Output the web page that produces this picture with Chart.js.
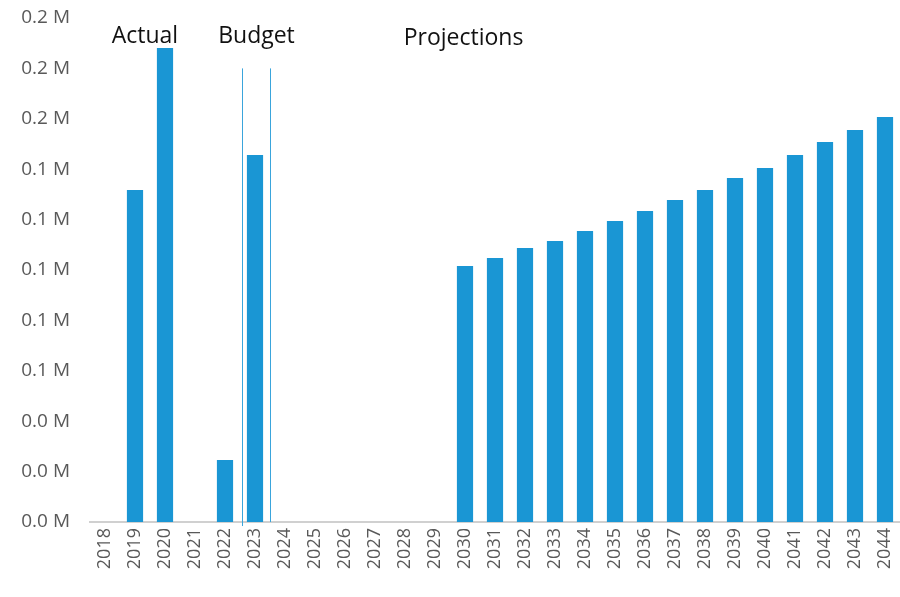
<!DOCTYPE html>
<html>
<head>
<meta charset="utf-8">
<script src="https://cdn.jsdelivr.net/npm/chart.js@4"></script>
<style>
  html, body { margin: 0; padding: 0; background: #fff; }
  #chart { display: block; }
</style>
</head>
<body>
<canvas id="chart" width="900" height="597"></canvas>
<script>
const years = ['2018', '2019', '2020', '2021', '2022', '2023', '2024', '2025', '2026', '2027', '2028', '2029',
  '2030', '2031', '2032', '2033', '2034', '2035', '2036', '2037', '2038', '2039', '2040', '2041', '2042', '2043', '2044'];
const values = [null, 131700, 188100, null, 24600, 145600, null, null, null, null, null, null,
  101600, 104800, 108700, 111500, 115500, 119400, 123400, 127800, 131700, 136500, 140500, 145600, 150800, 155600, 160700];
const yTicks = [0, 20000, 40000, 60000, 80000, 100000, 120000, 140000, 160000, 180000, 200000];

// section labels and divider lines, placed in category/value units
const sectionNames = ['Actual', 'Budget', 'Projections'];
const sectionAt = [1.33, 5.05, 11.95];
const sectionY = [192700, 192700, 191700];
const dividerAt = [4.58, 5.49];
const dividerTop = [180000, 180000];
const dividerBottom = [-1600, 0];

const blue = '#1a96d4';

const sections = {
  id: 'sections',
  afterDatasetsDraw(chart) {
    const { ctx, scales: { x, y } } = chart;
    ctx.save();
    ctx.strokeStyle = '#3aa5dc';
    ctx.lineWidth = 1;
    dividerAt.forEach((d, i) => {
      const px = Math.round(x.getPixelForValue(d)) + 0.5;
      ctx.beginPath();
      ctx.moveTo(px, y.getPixelForValue(dividerTop[i]));
      ctx.lineTo(px, y.getPixelForValue(dividerBottom[i]));
      ctx.stroke();
    });
    ctx.fillStyle = '#111';
    ctx.font = '23px "Open Sans"';
    ctx.textAlign = 'center';
    ctx.textBaseline = 'middle';
    sectionNames.forEach((name, i) => {
      ctx.fillText(name, x.getPixelForValue(sectionAt[i]), y.getPixelForValue(sectionY[i]));
    });
    ctx.restore();
  }
};

new Chart(document.getElementById('chart').getContext('2d'), {
  type: 'bar',
  data: {
    labels: years,
    datasets: [{
      data: values,
      backgroundColor: blue,
      borderWidth: 0,
      barPercentage: 0.54,
      categoryPercentage: 1,
    }],
  },
  options: {
    responsive: false,
    animation: false,
    devicePixelRatio: 1,
    layout: { padding: { top: 18, right: 0, left: 0, bottom: 0 } },
    plugins: {
      legend: { display: false },
      tooltip: { enabled: false },
    },
    scales: {
      x: {
        grid: { display: false, drawTicks: false },
        border: { color: '#d0d0d0', width: 2 },
        ticks: {
          color: '#595959',
          font: { family: 'Open Sans', size: 18 },
          maxRotation: 90,
          minRotation: 90,
          padding: 6,
          autoSkip: false,
        },
        afterFit(scale) {
          scale.height = 75;
          scale.paddingLeft = 0;
          scale.paddingRight = 0;
        },
      },
      y: {
        min: 0,
        max: 200000,
        grid: { display: false, drawTicks: false },
        border: { display: false },
        afterBuildTicks(scale) { scale.ticks = yTicks.map(v => ({ value: v })); },
        ticks: {
          color: '#595959',
          font: { family: 'Open Sans', size: 19 },
          padding: 20,
          callback: v => (v / 1000000).toFixed(1) + ' M',
        },
        afterFit(scale) {
          scale.width = 90;
          scale.paddingTop = 0;
          scale.paddingBottom = 0;
        },
      },
    },
  },
  plugins: [sections],
});
</script>
</body>
</html>
